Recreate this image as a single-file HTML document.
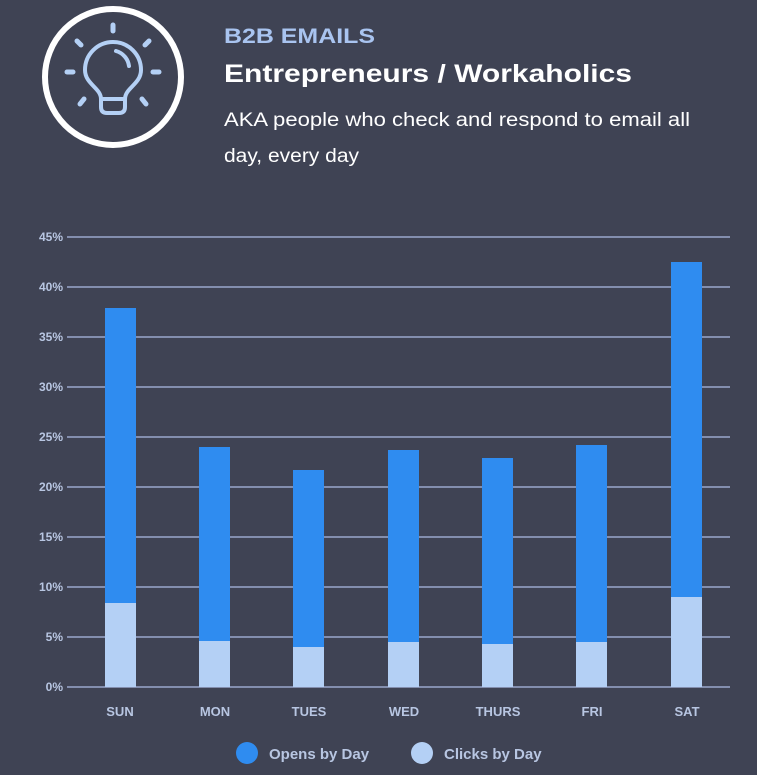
<!DOCTYPE html>
<html><head><style>
body{margin:0;background:#3f4354;width:757px;height:770px;overflow:hidden;font-family:"Liberation Sans",sans-serif}
</style></head><body>
<svg width="757" height="770" xmlns="http://www.w3.org/2000/svg">
<rect width="757" height="770" fill="#3f4354"/>
<circle cx="113" cy="77" r="68" fill="none" stroke="#fff" stroke-width="6"/>
<g stroke="#b4d0f5" stroke-width="5" stroke-linecap="round" fill="none">
<line x1="113" y1="25" x2="113" y2="31"/>
<line x1="77" y1="41" x2="81" y2="45"/><line x1="149" y1="41" x2="145" y2="45"/>
<line x1="67" y1="72" x2="73" y2="72"/><line x1="153" y1="72" x2="159" y2="72"/>
<line x1="80" y1="104" x2="84" y2="99"/><line x1="146" y1="104" x2="142" y2="99"/>
<path d="M101 99 C101 88 85 84 85 70 A28 28 0 0 1 141 70 C141 84 125 88 125 99 Z" stroke-width="4"/>
<path d="M101 99 L101 107 Q101 113 107 113 L119 113 Q125 113 125 107 L125 99" stroke-width="4"/>
<path d="M116 51 A18 18 0 0 1 129 66" stroke-width="4"/>
</g>
<text x="224" y="43" fill="#a9c4f0" font-size="21" font-weight="bold" textLength="151" lengthAdjust="spacingAndGlyphs">B2B EMAILS</text>
<text x="224" y="82" fill="#fff" font-size="25" font-weight="bold" textLength="408" lengthAdjust="spacingAndGlyphs">Entrepreneurs / Workaholics</text>
<text x="224" y="126" fill="#fff" font-size="19" textLength="466" lengthAdjust="spacingAndGlyphs">AKA people who check and respond to email all</text>
<text x="224" y="162" fill="#fff" font-size="19" textLength="135" lengthAdjust="spacingAndGlyphs">day, every day</text>
<g stroke="#9aa8cc" stroke-width="1.5">
<line x1="67" x2="730" y1="237" y2="237"/><line x1="67" x2="730" y1="287" y2="287"/>
<line x1="67" x2="730" y1="337" y2="337"/><line x1="67" x2="730" y1="387" y2="387"/>
<line x1="67" x2="730" y1="437" y2="437"/><line x1="67" x2="730" y1="487" y2="487"/>
<line x1="67" x2="730" y1="537" y2="537"/><line x1="67" x2="730" y1="587" y2="587"/>
<line x1="67" x2="730" y1="637" y2="637"/><line x1="67" x2="730" y1="687" y2="687"/>
</g>
<g fill="#b8c6e2" font-size="12" font-weight="bold" text-anchor="end">
<text x="63" y="241">45%</text><text x="63" y="291">40%</text><text x="63" y="341">35%</text>
<text x="63" y="391">30%</text><text x="63" y="441">25%</text><text x="63" y="491">20%</text>
<text x="63" y="541">15%</text><text x="63" y="591">10%</text><text x="63" y="641">5%</text><text x="63" y="691">0%</text>
</g>
<g fill="#2f8cf0">
<rect x="105" y="308" width="31" height="379"/><rect x="199" y="447" width="31" height="240"/>
<rect x="293" y="470" width="31" height="217"/><rect x="388" y="450" width="31" height="237"/>
<rect x="482" y="458" width="31" height="229"/><rect x="576" y="445" width="31" height="242"/>
<rect x="671" y="262" width="31" height="425"/>
</g>
<g fill="#b4d0f5">
<rect x="105" y="603" width="31" height="84"/><rect x="199" y="641" width="31" height="46"/>
<rect x="293" y="647" width="31" height="40"/><rect x="388" y="642" width="31" height="45"/>
<rect x="482" y="644" width="31" height="43"/><rect x="576" y="642" width="31" height="45"/>
<rect x="671" y="597" width="31" height="90"/>
</g>
<g fill="#b8c6e2" font-size="13" font-weight="bold" text-anchor="middle">
<text x="120" y="716">SUN</text><text x="215" y="716">MON</text><text x="309" y="716">TUES</text>
<text x="404" y="716">WED</text><text x="498" y="716">THURS</text><text x="592" y="716">FRI</text><text x="687" y="716">SAT</text>
</g>
<circle cx="247" cy="753" r="11" fill="#2f8cf0"/>
<text x="269" y="759" fill="#b8c6e2" font-size="15" font-weight="bold">Opens by Day</text>
<circle cx="422" cy="753" r="11" fill="#b4d0f5"/>
<text x="444" y="759" fill="#b8c6e2" font-size="15" font-weight="bold">Clicks by Day</text>
</svg>
</body></html>
